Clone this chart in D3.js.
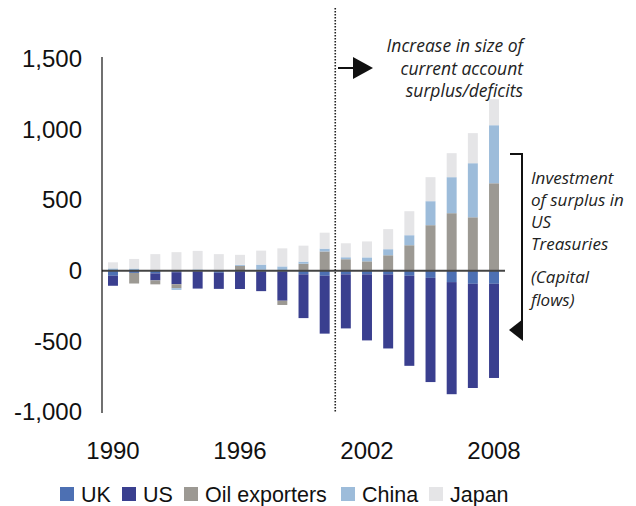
<!DOCTYPE html>
<html>
<head>
<meta charset="utf-8">
<script src="https://cdn.jsdelivr.net/npm/d3@7"></script>
<style>
  body { margin: 0; background: #fff; }
  svg { display: block; }
  .note { font-family: "Open Sans", "Noto Sans", sans-serif; font-style: italic; font-size: 17.5px; fill: #222; }
  .side { font-size: 17px; }
</style>
</head>
<body>
<div id="chart"></div>
<script>
// current account balances, US$ bn
const years = d3.range(1990, 2009);
const uk = [-35, -15, -18, -10, -5, -14, -8, -6, -6, -25, -35, -25, -25, -25, -35, -50, -80, -92, -92];
const us = [-71, 3, -50, -85, -121, -114, -121, -138, -206, -310, -410, -383, -468, -525, -638, -738, -794, -738, -667];
const oil = [5, -75, -28, -28, 2, 5, 35, 7, -30, 50, 137, 82, 67, 110, 181, 323, 408, 379, 620];
const china = [12, 13, 6, -12, 8, 2, 7, 37, 31, 15, 20, 14, 28, 43, 71, 170, 255, 383, 411];
const japan = [43, 68, 112, 132, 131, 111, 71, 99, 128, 113, 113, 99, 113, 142, 170, 170, 170, 213, 184];
const yTicks = [-1000, -500, 0, 500, 1000, 1500];
const xTicks = [1990, 1996, 2002, 2008];

const keys = ["UK", "US", "Oil exporters", "China", "Japan"];
const colors = ["#4d70b3", "#3a3f8f", "#9c9993", "#9dbcda", "#e5e5e7"];
const series = [uk, us, oil, china, japan];

const rows = years.map((yr, i) => {
  const r = { year: yr };
  keys.forEach((k, j) => r[k] = series[j][i]);
  return r;
});

const sans = "'Liberation Sans', Arial, sans-serif";
const width = 636, height = 506;
const svg = d3.select("#chart").append("svg")
  .attr("width", width).attr("height", height)
  .attr("font-family", sans);

const x = d3.scaleBand()
  .domain(years)
  .range([102.4, 504.6])
  .paddingInner(0.53)
  .paddingOuter(0.265);

const y = d3.scaleLinear()
  .domain([-1000, 1500])
  .range([412, 59]);

const color = d3.scaleOrdinal().domain(keys).range(colors);

const stacked = d3.stack()
  .keys(keys)
  .offset(d3.stackOffsetDiverging)(rows);

svg.append("g")
  .selectAll("g")
  .data(stacked)
  .join("g")
  .attr("fill", d => color(d.key))
  .selectAll("rect")
  .data(d => d)
  .join("rect")
  .attr("x", d => x(d.data.year))
  .attr("width", x.bandwidth())
  .attr("y", d => y(Math.max(d[0], d[1])))
  .attr("height", d => Math.abs(y(d[0]) - y(d[1])));

// zero line
svg.append("line")
  .attr("x1", 102).attr("x2", 505)
  .attr("y1", y(0)).attr("y2", y(0))
  .attr("stroke", "#444").attr("stroke-width", 2);

// y axis line
svg.append("line")
  .attr("x1", 102).attr("x2", 102)
  .attr("y1", y(1500) - 2).attr("y2", y(-1000) + 1)
  .attr("stroke", "#111").attr("stroke-width", 1.2);

const fmt = d3.format(",");
const yAxis = svg.append("g")
  .attr("transform", "translate(102,0)")
  .call(d3.axisLeft(y).tickValues(yTicks).tickSize(0).tickPadding(20)
    .tickFormat(d => fmt(d).replace("\u2212", "-")));
yAxis.select(".domain").remove();
yAxis.attr("font-family", sans).attr("font-size", 24);
yAxis.selectAll("text").attr("fill", "#111");

// x labels
svg.append("g")
  .selectAll("text")
  .data(xTicks)
  .join("text")
  .attr("x", d => x(d) + x.bandwidth() / 2)
  .attr("y", 459)
  .attr("text-anchor", "middle")
  .attr("font-size", 24)
  .attr("fill", "#111")
  .text(d => d);

// dotted divider between 2000 and 2001
const divX = (x(2000) + x.bandwidth() + x(2001)) / 2;
svg.append("line")
  .attr("x1", divX).attr("x2", divX)
  .attr("y1", 8).attr("y2", 412)
  .attr("stroke", "#222").attr("stroke-width", 1.6)
  .attr("stroke-dasharray", "1.5,1.5");

// top annotation
const topNote = ["Increase in size of", "current account", "surplus/deficits"];
svg.append("g")
  .selectAll("text")
  .data(topNote)
  .join("text")
  .attr("class", "note")
  .attr("x", 523)
  .attr("y", (d, i) => 52 + i * 22.5)
  .attr("text-anchor", "end")
  .text(d => d);

svg.append("line")
  .attr("x1", 338).attr("x2", 354)
  .attr("y1", 68).attr("y2", 68)
  .attr("stroke", "#111").attr("stroke-width", 2);
svg.append("path")
  .attr("d", "M353,57 L373,68 L353,79 Z")
  .attr("fill", "#111");

// right bracket with arrow
svg.append("path")
  .attr("d", "M510,154 L522,154 L522,334")
  .attr("fill", "none")
  .attr("stroke", "#111").attr("stroke-width", 2);
svg.append("path")
  .attr("d", "M523,319 L509,330 L523,341 Z")
  .attr("fill", "#111");

const sideNote = [["Investment", 184], ["of surplus in", 206], ["US", 228], ["Treasuries", 250], ["(Capital", 283], ["flows)", 306]];
svg.append("g")
  .selectAll("text")
  .data(sideNote)
  .join("text")
  .attr("class", "note side")
  .attr("x", 531)
  .attr("y", d => d[1])
  .text(d => d[0]);

// legend
const legendX = [60, 122, 184, 341, 429];
const lg = svg.append("g")
  .selectAll("g")
  .data(keys)
  .join("g")
  .attr("transform", (d, i) => `translate(${legendX[i]},487)`);
lg.append("rect")
  .attr("width", 14).attr("height", 14)
  .attr("fill", d => color(d));
lg.append("text")
  .attr("x", 21).attr("y", 15)
  .attr("font-size", 21.5)
  .attr("fill", "#111")
  .text(d => d);
</script>
</body>
</html>
